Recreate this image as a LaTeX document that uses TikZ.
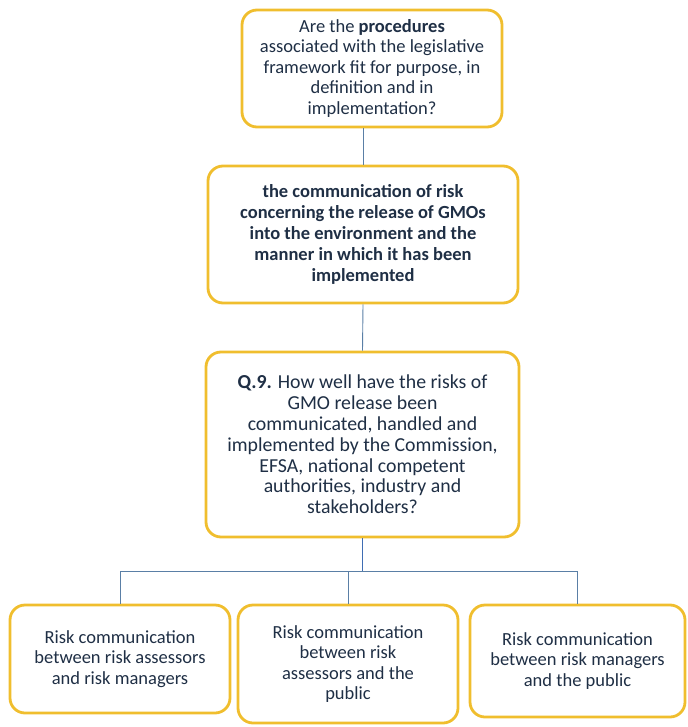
\documentclass[tikz,border=0pt]{standalone}
\usepackage{fontspec}
\setmainfont{Carlito}
\definecolor{boxline}{HTML}{F0BE2E}
\definecolor{boxtext}{HTML}{1F2F45}
\definecolor{linkblue}{HTML}{5A7FA6}
\definecolor{stemblue}{HTML}{3F6DB3}
\begin{document}
\begin{tikzpicture}[x=1pt,y=-1pt,
  qbox/.style={draw=boxline, line width=2.8pt, rounded corners=15pt, fill=white,
    text=boxtext, align=center, inner sep=0pt,
    font=\fontsize{18.5}{20.5}\selectfont},
  link/.style={draw=linkblue, line width=0.9pt},
  stem/.style={draw=stemblue, line width=1.8pt}]
\useasboundingbox (0,0) rectangle (687,727);

% question boxes, top to bottom
\node[qbox, minimum width=260pt, minimum height=117pt] (q1) at (372,68.5)
  {Are the \textbf{procedures}\\associated with the legislative\\framework fit for purpose, in\\definition and in\\implementation?};
\node[qbox, minimum width=310pt, minimum height=137pt,
      font=\fontsize{18.5}{21}\selectfont\bfseries] (q2) at (363,234.5)
  {the communication of risk\\concerning the release of GMOs\\into the environment and the\\manner in which it has been\\implemented};
\node[qbox, minimum width=313pt, minimum height=185pt,
      font=\fontsize{19.8}{20.8}\selectfont] (q3) at (362.5,444.5)
  {\textbf{Q.9.} How well have the risks of\\GMO release been\\communicated, handled and\\implemented by the Commission,\\EFSA, national competent\\authorities, industry and\\stakeholders?};

% the three strands of risk communication
\node[qbox, minimum width=220pt, minimum height=108pt] (r1) at (120,659)
  {Risk communication\\between risk assessors\\and risk managers};
\node[qbox, minimum width=220pt, minimum height=118pt] (r2) at (348,664)
  {Risk communication\\between risk\\assessors and the\\public};
\node[qbox, minimum width=215pt, minimum height=112pt] (r3) at (577.5,661)
  {Risk communication\\between risk managers\\and the public};

% connectors
\coordinate (bar) at (0,571);
\draw[link] (q1.south -| q2.north) -- (q2.north);
\draw[link] (q2.south) -- (q3.north);
\draw[stem] (q3.south) -- (q3.south |- bar);
\draw[link] (r1.north |- bar) -- (r3.north |- bar);
\draw[link] (r1.north |- bar) -- (r1.north);
\draw[link] (r2.north |- bar) -- (r2.north);
\draw[link] (r3.north |- bar) -- (r3.north);
\end{tikzpicture}
\end{document}
